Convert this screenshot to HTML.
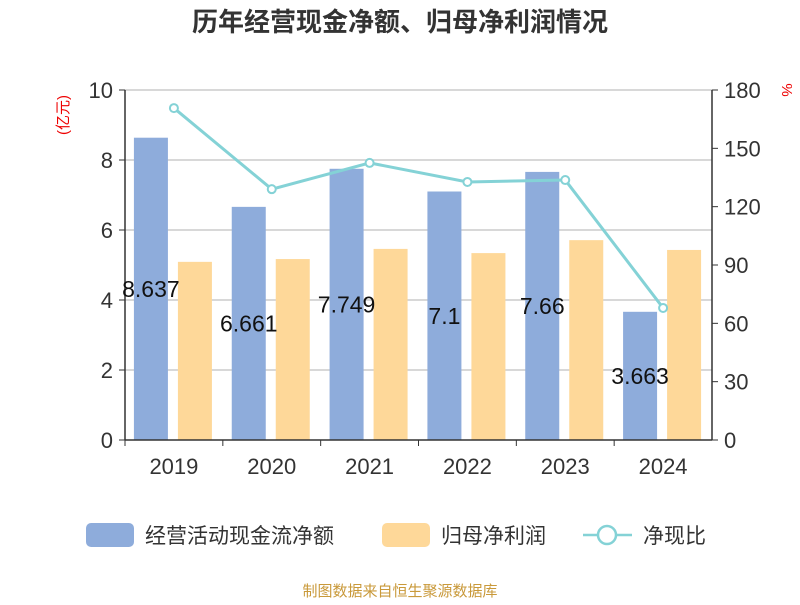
<!DOCTYPE html>
<html><head><meta charset="utf-8"><style>
body{margin:0;background:#fff;}
svg text{font-family:"Liberation Sans","Noto Sans CJK SC",sans-serif;}
</style></head><body>
<svg id="c" width="800" height="600">
<text x="400" y="31" text-anchor="middle" font-size="26" font-weight="bold" fill="#333">历年经营现金净额、归母净利润情况</text>
<g id="grid"></g><g id="bars"></g><g id="axes"></g><g id="line"></g><g id="labels"></g>
<text transform="translate(68,115) rotate(-90)" text-anchor="middle" font-size="15" fill="#e00">(亿元)</text>
<text transform="translate(782,90) rotate(90)" text-anchor="middle" font-size="15" fill="#e00">%</text>
<g>
<rect x="86" y="523" width="48" height="24" rx="5" fill="#8eacdb"/>
<text x="145" y="543" font-size="21" fill="#333">经营活动现金流净额</text>
<rect x="382" y="523" width="48" height="24" rx="5" fill="#fed899"/>
<text x="441" y="543" font-size="21" fill="#333">归母净利润</text>
<line x1="583" y1="535" x2="632" y2="535" stroke="#84d2d6" stroke-width="2.5"/>
<circle cx="607" cy="535" r="9" fill="#fff" stroke="#84d2d6" stroke-width="2.5"/>
<text x="643" y="543" font-size="21" fill="#333">净现比</text>
</g>
<text x="400" y="596" text-anchor="middle" font-size="15" fill="#c9993a">制图数据来自恒生聚源数据库</text>
</svg>
<script>
const categories=["2019","2020","2021","2022","2023","2024"];
const cashflow=[8.637,6.661,7.749,7.1,7.66,3.663];
const cashflowLabels=["8.637","6.661","7.749","7.1","7.66","3.663"];
const profit=[5.09,5.17,5.46,5.34,5.71,5.43];
const ratio=[170.7,129,142.5,132.7,133.7,67.9];
const leftTicks=[0,2,4,6,8,10];
const rightTicks=[0,30,60,90,120,150,180];
const NS="http://www.w3.org/2000/svg";
const X0=125,X1=712,Y0=440,Y1=90;
const band=(X1-X0)/categories.length;
const xc=i=>X0+band*(i+0.5);
const yl=v=>Y0-(v/10)*(Y0-Y1);
const yr=v=>Y0-(v/180)*(Y0-Y1);
function mk(tag,attrs,parent){const e=document.createElementNS(NS,tag);for(const k in attrs)e.setAttribute(k,attrs[k]);document.getElementById(parent).appendChild(e);return e;}
leftTicks.forEach(t=>{
  if(t>0){const g=mk("line",{x1:X0,x2:X1,y1:yl(t),y2:yl(t),stroke:"#ccc","stroke-width":1.5},"grid");
  
  }
  const tk=mk("line",{x1:X0-6,x2:X0,y1:yl(t),y2:yl(t),stroke:"#333"},"axes");
  
  
  const tx=mk("text",{x:X0-12,y:yl(t)+8,"text-anchor":"end","font-size":22,fill:"#333"},"axes");tx.textContent=t;
  
  
});
rightTicks.forEach(t=>{
  const tk=mk("line",{x1:X1,x2:X1+6,y1:yr(t),y2:yr(t),stroke:"#333"},"axes");
  
  
  const tx=mk("text",{x:X1+12,y:yr(t)+8,"font-size":22,fill:"#333"},"axes");tx.textContent=t;
  
  
});
[[X0,Y1,X0,Y0],[X1,Y1,X1,Y0],[X0,Y0,X1,Y0]].forEach(a=>{
  const l=mk("line",{x1:a[0],y1:a[1],x2:a[2],y2:a[3],stroke:"#333","stroke-width":1.5},"axes");
  
  
});
categories.forEach((c,i)=>{
  const tk=mk("line",{x1:X0+band*i,x2:X0+band*i,y1:Y0,y2:Y0+6,stroke:"#333"},"axes");
  
  
  const tx=mk("text",{x:xc(i),y:Y0+34,"text-anchor":"middle","font-size":22,fill:"#333"},"axes");tx.textContent=c;
  
  
  const b=mk("rect",{x:xc(i)-40,y:yl(cashflow[i]),width:34,height:Y0-yl(cashflow[i]),fill:"#8eacdb"},"bars");
  
  
  const o=mk("rect",{x:xc(i)+4,y:yl(profit[i]),width:34,height:Y0-yl(profit[i]),fill:"#fed899"},"bars");
  
  
  const lb=mk("text",{x:xc(i)-23,y:(yl(cashflow[i])+Y0)/2+8,"text-anchor":"middle","font-size":23,fill:"#111"},"labels");lb.textContent=cashflowLabels[i];
  
  
});
const pl=mk("polyline",{points:ratio.map((v,i)=>xc(i)+","+yr(v)).join(" "),fill:"none",stroke:"#84d2d6","stroke-width":3},"line");


ratio.forEach((v,i)=>{
  const p=mk("circle",{cx:xc(i),cy:yr(v),r:4,fill:"#fff",stroke:"#84d2d6","stroke-width":2},"line");
  
  
});
</script>
</body></html>
